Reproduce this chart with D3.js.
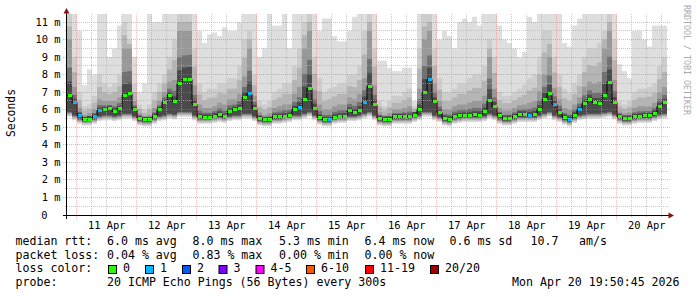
<!DOCTYPE html>
<html>
<head>
<meta charset="utf-8">
<script src="https://cdn.jsdelivr.net/npm/d3@7"></script>
<style>
  body { margin: 0; background: #fff; }
  text { font-family: "DejaVu Sans Mono", monospace; fill: #000; }
</style>
</head>
<body>
<svg id="chart" width="697" height="297"></svg>
<script>
// 2 hour steps starting Apr 10 20:00, values in ms
const median = [
  6.8, 6.4, 5.65, 5.42, 5.47, 5.6, 5.95, 6.0, 6.05, 5.9, 6.05, 6.8,
  6.9, 6.0, 5.5, 5.42, 5.42, 5.6, 6.0, 6.4, 6.8, 6.45, 7.5, 7.7,
  7.75, 6.3, 5.6, 5.57, 5.57, 5.64, 5.74, 5.6, 5.9, 6.0, 6.1, 6.7,
  6.95, 6.1, 5.5, 5.42, 5.42, 5.6, 5.6, 5.64, 5.68, 6.0, 6.15, 6.6,
  7.2, 6.1, 5.55, 5.42, 5.42, 5.57, 5.62, 5.64, 5.95, 5.86, 5.97, 6.4,
  7.3, 6.3, 5.5, 5.45, 5.45, 5.6, 5.6, 5.6, 5.6, 5.7, 6.0, 7.0,
  7.7, 6.45, 5.85, 5.5, 5.45, 5.6, 5.65, 5.68, 5.68, 5.72, 5.7, 5.9,
  6.55, 6.2, 5.65, 5.48, 5.5, 5.6, 5.75, 5.75, 5.7, 5.75, 6.0, 6.6,
  6.9, 6.3, 5.85, 5.55, 5.45, 5.68, 6.0, 6.35, 6.6, 6.4, 6.35, 6.8,
  7.55, 6.4, 5.6, 5.5, 5.5, 5.6, 5.62, 5.65, 5.65, 5.8, 6.2, 6.4
];
const minPing = [
  5.6, 5.4, 5.2, 5.1, 5.1, 5.2, 5.35, 5.4, 5.4, 5.35, 5.4, 5.5,
  5.5, 5.35, 5.1, 5.05, 5.05, 5.2, 5.35, 5.4, 5.5, 5.45, 5.6, 5.6,
  5.6, 5.4, 5.2, 5.2, 5.2, 5.25, 5.3, 5.25, 5.35, 5.4, 5.4, 5.5,
  5.5, 5.35, 5.1, 5.05, 5.05, 5.2, 5.2, 5.25, 5.3, 5.4, 5.4, 5.5,
  5.6, 5.4, 5.15, 5.05, 5.05, 5.2, 5.25, 5.25, 5.35, 5.35, 5.4, 5.5,
  5.6, 5.4, 5.1, 5.05, 5.05, 5.2, 5.2, 5.2, 5.2, 5.3, 5.4, 5.6,
  5.6, 5.4, 5.3, 5.1, 5.05, 5.2, 5.25, 5.3, 5.3, 5.3, 5.3, 5.35,
  5.5, 5.4, 5.2, 5.1, 5.1, 5.2, 5.3, 5.3, 5.3, 5.3, 5.4, 5.5,
  5.6, 5.4, 5.3, 5.15, 5.05, 5.25, 5.4, 5.45, 5.5, 5.5, 5.5, 5.55,
  5.6, 5.45, 5.2, 5.1, 5.1, 5.2, 5.25, 5.25, 5.25, 5.35, 5.45, 5.5
];
const p75 = [
  10.0, 7.3, 6.1, 5.7, 5.8, 6.0, 6.6, 6.5, 6.5, 6.5, 6.7, 9.5,
  9.5, 6.5, 5.8, 5.65, 5.7, 6.1, 6.5, 7.0, 7.6, 7.7, 10.5, 10.5,
  10.5, 7.4, 6.3, 6.1, 6.1, 6.2, 6.4, 6.3, 6.6, 6.6, 6.9, 7.9,
  9.5, 6.8, 5.85, 5.7, 5.8, 6.1, 6.2, 6.3, 6.3, 6.9, 7.3, 9.5,
  10.5, 7.1, 6.3, 6.0, 6.0, 6.2, 6.3, 6.3, 6.7, 6.6, 6.9, 7.8,
  10.5, 7.4, 5.85, 5.7, 5.8, 6.0, 6.0, 6.1, 6.2, 5.9, 7.2, 10.0,
  10.5, 7.5, 6.5, 6.0, 6.0, 6.2, 6.3, 6.3, 6.4, 6.5, 6.5, 6.8,
  9.0, 7.2, 6.1, 5.95, 5.95, 6.1, 6.25, 6.3, 6.4, 6.5, 7.05, 8.0,
  9.0, 7.25, 6.6, 6.1, 6.0, 6.3, 6.7, 7.3, 7.6, 7.5, 7.6, 9.5,
  10.5, 7.7, 5.9, 5.8, 5.85, 6.1, 6.2, 6.2, 6.2, 6.4, 7.0, 7.3
];
const p90 = [
  11.5, 9.0, 7.0, 6.2, 6.3, 6.8, 8.0, 7.5, 7.3, 7.5, 8.0, 11.0,
  10.0, 7.5, 6.3, 6.0, 6.3, 7.0, 7.5, 8.0, 9.0, 10.0, 11.5, 11.5,
  11.5, 9.5, 7.5, 7.0, 7.2, 7.2, 7.5, 7.5, 7.8, 7.8, 8.5, 10.0,
  10.5, 8.0, 6.5, 6.3, 6.5, 7.0, 7.2, 7.5, 7.5, 8.5, 9.5, 11.0,
  11.5, 9.0, 7.8, 7.0, 7.2, 7.3, 7.5, 7.5, 8.0, 8.0, 8.5, 10.5,
  11.5, 9.5, 6.5, 6.2, 6.5, 6.8, 6.8, 7.0, 7.2, 6.2, 9.5, 11.5,
  11.5, 9.5, 7.8, 7.0, 7.0, 7.2, 7.5, 7.5, 7.8, 8.0, 8.0, 8.5,
  10.0, 9.0, 7.0, 6.8, 6.8, 7.0, 7.2, 7.4, 7.8, 8.0, 9.0, 10.5,
  10.5, 9.0, 8.0, 7.2, 7.0, 7.5, 8.0, 9.0, 9.5, 9.5, 9.8, 10.5,
  11.5, 10.0, 6.5, 6.3, 6.5, 7.0, 7.2, 7.2, 7.3, 7.5, 8.5, 9.0
];
const maxPing = [
  11.5, 11.5, 10.5, 7.4, 8.3, 8.0, 11.5, 11.5, 9.0, 9.5, 10.8, 11.5,
  11.5, 9.0, 7.0, 7.5, 11.5, 11.0, 11.0, 11.5, 11.5, 11.5, 11.5, 11.5,
  11.5, 11.5, 10.5, 9.8, 10.3, 10.4, 10.2, 10.7, 10.5, 10.5, 11.0, 11.5,
  11.5, 11.5, 9.0, 9.5, 11.5, 10.8, 10.8, 11.5, 9.5, 11.5, 11.5, 11.5,
  11.5, 11.5, 10.5, 11.2, 11.2, 10.2, 9.9, 9.9, 10.5, 11.3, 11.5, 11.5,
  11.5, 11.5, 8.8, 8.8, 8.4, 8.2, 8.2, 8.4, 8.4, 6.5, 11.5, 11.5,
  11.5, 11.5, 10.0, 10.5, 10.2, 9.5, 11.0, 11.2, 11.0, 11.3, 10.8, 11.5,
  11.5, 11.5, 10.8, 10.0, 9.8, 9.5, 9.0, 9.3, 11.3, 11.0, 11.5, 11.5,
  11.5, 11.5, 11.5, 9.8, 9.6, 10.8, 11.2, 11.5, 11.5, 11.5, 11.5, 11.5,
  11.5, 11.5, 8.6, 8.2, 7.8, 10.5, 10.5, 10.0, 9.6, 10.8, 10.8, 10.8
];
// steps where 1 of 20 pings was lost
const lossOneSteps = [1, 2, 5, 6, 36, 46, 52, 59, 72, 92, 97, 100, 102];

const dayLabels = ["11 Apr", "12 Apr", "13 Apr", "14 Apr", "15 Apr", "16 Apr", "17 Apr", "18 Apr", "19 Apr", "20 Apr"];
const yTickValues = [0, 1, 2, 3, 4, 5, 6, 7, 8, 9, 10, 11];
const yTickLabels = ["0", "1 m", "2 m", "3 m", "4 m", "5 m", "6 m", "7 m", "8 m", "9 m", "10 m", "11 m"];

const rttStats = ["6.0 ms avg", "8.0 ms max", "5.3 ms min", "6.4 ms now", "0.6 ms sd", "10.7", "am/s"];
const lossStats = ["0.04 % avg", "0.83 % max", "0.00 % min", "0.00 % now"];
const lossBins = ["0", "1", "2", "3", "4-5", "6-10", "11-19", "20/20"];
const lossColors = ["#26ff00", "#00b8ff", "#0059ff", "#7e00ff", "#ff00ff", "#ff5500", "#ff0000", "#a10000"];
const probeText = "20 ICMP Echo Pings (56 Bytes) every 300s";
const stampText = "Mon Apr 20 19:50:45 2026";

const svg = d3.select("#chart");

const tStart = Date.UTC(2026, 3, 10, 19, 50, 45);
const tEnd = Date.UTC(2026, 3, 20, 19, 50, 45);
const dataStart = Date.UTC(2026, 3, 10, 20, 0, 0);
const stepMs = 2 * 3600 * 1000;

const x = d3.scaleUtc().domain([tStart, tEnd]).range([66.3, 666.3]);
const y = d3.scaleLinear().domain([0, 11.46]).range([215, 14]);

const steps = median.map((m, i) => ({
  x0: Math.round(x(dataStart + i * stepMs)),
  x1: Math.round(x(dataStart + (i + 1) * stepMs)),
  med: m, lo: minPing[i], q75: p75[i], q90: p90[i], hi: maxPing[i],
  loss: lossOneSteps.includes(i) ? 1 : 0
}));

svg.append("clipPath").attr("id", "plot")
  .append("rect").attr("x", 67).attr("y", 14).attr("width", 600).attr("height", 201);

const g = svg.append("g").attr("clip-path", "url(#plot)");

// Smoke: nested bands, lightest/outermost first. Bottom edges step up
// towards the median a pixel at a time to give the soft lower fade.
const bands = [
  { top: d => y(d.hi), inset: 0, fill: "#dedede" },
  { top: d => y(d.q90), inset: 1, fill: "#cdcdcd" },
  { top: d => (y(d.q90) + y(d.q75)) / 2, inset: 2, fill: "#b5b5b5" },
  { top: d => y(d.q75), inset: 3, fill: "#999999" },
  { top: d => (y(d.q75) + y(d.med)) / 2, inset: 4, fill: "#717171" },
  { top: d => Math.min(y(d.med) - 3, (y(d.q75) + 3 * y(d.med)) / 4), inset: 5, fill: "#4a4a4a" }
];
bands.forEach(b => {
  g.append("g").selectAll("rect").data(steps).enter().append("rect")
    .attr("x", d => d.x0).attr("width", d => d.x1 - d.x0)
    .attr("y", d => b.top(d))
    .attr("height", d => {
      const bottom = Math.max(y(d.lo) - b.inset, y(d.med) + 1.5);
      return Math.max(0, bottom - b.top(d));
    })
    .attr("fill", b.fill);
});

// Grid lines on top of the smoke
const grid = svg.append("g");
const minorY = d3.range(0.5, 11.5, 1);
grid.selectAll(".minY").data(minorY).enter().append("line")
  .attr("x1", 65).attr("x2", 668)
  .attr("y1", d => Math.floor(y(d)) + 0.5).attr("y2", d => Math.floor(y(d)) + 0.5)
  .attr("stroke", "#b0b0b0").attr("stroke-dasharray", "1,1").attr("stroke-opacity", 0.7);

grid.selectAll(".majY").data(yTickValues.slice(1)).enter().append("line")
  .attr("x1", 63).attr("x2", 670)
  .attr("y1", d => Math.floor(y(d)) + 0.5).attr("y2", d => Math.floor(y(d)) + 0.5)
  .attr("stroke", "#e06060").attr("stroke-dasharray", "1,1").attr("stroke-opacity", 0.5);

const sixHours = d3.utcHour.every(6).range(new Date(tStart), new Date(tEnd))
  .filter(d => d.getUTCHours() !== 0);
grid.selectAll(".minX").data(sixHours).enter().append("line")
  .attr("x1", d => Math.floor(x(d)) + 0.5).attr("x2", d => Math.floor(x(d)) + 0.5)
  .attr("y1", 14).attr("y2", 217)
  .attr("stroke", "#b0b0b0").attr("stroke-dasharray", "1,1").attr("stroke-opacity", 0.7);

const days = d3.utcDay.range(new Date(tStart), new Date(tEnd));
grid.selectAll(".majX").data(days).enter().append("line")
  .attr("x1", d => Math.floor(x(d)) + 0.5).attr("x2", d => Math.floor(x(d)) + 0.5)
  .attr("y1", 14).attr("y2", 219)
  .attr("stroke", "#e06060").attr("stroke-dasharray", "1,1").attr("stroke-opacity", 0.4);

// Median: black step line, coloured dashes by loss
const mline = d3.line().x(d => d[0]).y(d => Math.floor(y(d[1])) + 0.5).curve(d3.curveStepAfter);
const pts = steps.map(d => [d.x0, d.med]);
pts.push([steps[steps.length - 1].x1, steps[steps.length - 1].med]);
g.append("path").attr("d", mline(pts))
  .attr("fill", "none").attr("stroke", "#000").attr("stroke-width", 1);

g.selectAll(".med").data(steps).enter().append("rect")
  .attr("x", d => d.x0 + 1).attr("width", d => d.x1 - d.x0 - 1)
  .attr("y", d => Math.floor(y(d.med)) - 1).attr("height", 3)
  .attr("fill", d => lossColors[d.loss]);

// Axes
svg.append("line").attr("x1", 66.5).attr("x2", 66.5).attr("y1", 12).attr("y2", 219)
  .attr("stroke", "#000");
svg.append("line").attr("x1", 63).attr("x2", 669).attr("y1", 215.5).attr("y2", 215.5)
  .attr("stroke", "#000");
svg.append("path").attr("d", "M66.5,8L63.5,13.5L69.5,13.5Z").attr("fill", "#8b1010");
svg.append("path").attr("d", "M674,215.5L668.5,212.5L668.5,218.5Z").attr("fill", "#8b1010");

svg.selectAll(".ylab").data(yTickValues).enter().append("text")
  .attr("x", d => d === 0 ? 47.5 : 60.5)
  .attr("y", d => Math.floor(y(d)) + 4)
  .attr("text-anchor", "end")
  .style("font-size", "10.4px")
  .text((d, i) => yTickLabels[i]);

svg.selectAll(".xlab").data(days).enter().append("text")
  .attr("x", d => x(d3.utcHour.offset(d, 12)))
  .attr("y", 229)
  .attr("text-anchor", "middle")
  .style("font-size", "10.4px")
  .text((d, i) => dayLabels[i]);

svg.append("text")
  .attr("transform", "translate(15,113) rotate(-90)")
  .attr("text-anchor", "middle")
  .style("font-size", "11.4px")
  .text("Seconds");

svg.append("text")
  .attr("transform", "translate(684,5) rotate(90)")
  .style("font-size", "8.3px")
  .style("fill", "#aaaaaa")
  .text("RRDTOOL / TOBI OETIKER");

// Legend
const legend = svg.append("g").style("font-size", "11.6px");
const statX = [107, 192.5, 279, 364.5, 449.5, 530.5, 579];
legend.append("text").attr("x", 15.5).attr("y", 245).text("median rtt:");
rttStats.forEach((s, i) => legend.append("text").attr("x", statX[i]).attr("y", 245).text(s));
legend.append("text").attr("x", 15.5).attr("y", 258.7).text("packet loss:");
lossStats.forEach((s, i) => legend.append("text").attr("x", statX[i]).attr("y", 258.7).text(s));

legend.append("text").attr("x", 15.5).attr("y", 272.4).text("loss color:");
const boxX = [108.5, 145.5, 182.5, 219, 256, 306.5, 365.5, 430.5];
lossBins.forEach((b, i) => {
  legend.append("rect").attr("x", boxX[i]).attr("y", 265.5).attr("width", 8).attr("height", 8)
    .attr("fill", lossColors[i]).attr("stroke", "#000").attr("stroke-width", 1);
  legend.append("text").attr("x", boxX[i] + 14.5).attr("y", 272.4).text(b);
});

legend.append("text").attr("x", 15.5).attr("y", 286).text("probe:");
legend.append("text").attr("x", 107).attr("y", 286).text(probeText);
legend.append("text").attr("x", 512).attr("y", 286).text(stampText);
</script>
</body>
</html>
